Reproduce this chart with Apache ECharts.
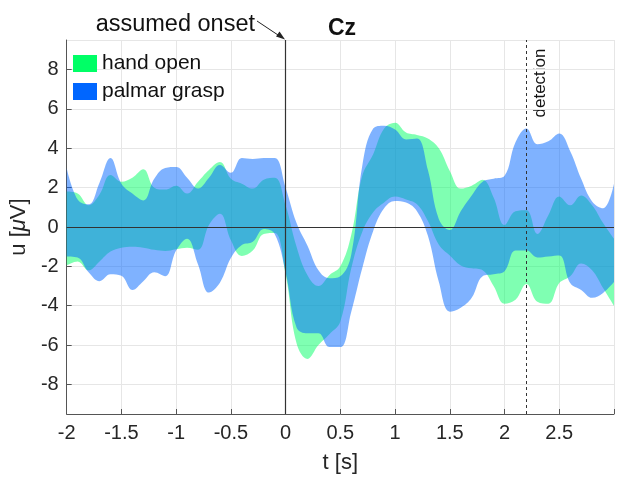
<!DOCTYPE html>
<html>
<head>
<meta charset="utf-8">
<script src="https://cdn.jsdelivr.net/npm/echarts@6/dist/echarts.min.js"></script>
<style>
  html, body { margin: 0; padding: 0; background: #fff; }
  #chart { width: 617px; height: 479px; }
</style>
</head>
<body>
<div id="chart"></div>
<script>
// time axis (s), sampled every 0.1 s
const tSec = [-2.0, -1.9, -1.8, -1.7, -1.6, -1.5, -1.4, -1.3, -1.2, -1.1,
  -1.0, -0.9, -0.8, -0.7, -0.6, -0.5, -0.4, -0.3, -0.2, -0.1,
  0.0, 0.1, 0.2, 0.3, 0.4, 0.5, 0.6, 0.7, 0.8, 0.9,
  1.0, 1.1, 1.2, 1.3, 1.4, 1.5, 1.6, 1.7, 1.8, 1.9,
  2.0, 2.1, 2.2, 2.3, 2.4, 2.5, 2.6, 2.7, 2.8, 2.9, 3.0];

// hand open band (uV)
const openHi = [1.8, 1.7, 1.1, 1.65, 2.64, 2.3, 2.5, 2.93, 2.0, 1.9,
  2.1, 1.7, 2.3, 2.9, 3.3, 2.45, 2.2, 1.95, 2.4, 2.5,
  1.1, -1.0, -2.45, -3.0, -2.45, -2.0, -0.4, 2.6, 3.7, 5.0,
  5.3, 4.8, 4.68, 4.5, 4.0, 2.85, 1.95, 2.1, 2.4, 1.5,
  0.1, 0.8, 0.85, -0.35, 0.6, 1.55, 1.1, 1.6, 1.1, 0.2, -0.6];
const openLo = [-1.95, -1.75, -2.2, -1.75, -1.25, -1.05, -1.0, -1.05, -1.16, -1.22,
  -1.13, -1.05, -1.15, 0.1, 0.67, -0.67, -1.47, -1.2, -0.35, -0.3,
  -2.4, -5.9, -6.7, -6.0, -5.45, -4.8, -2.1, -0.25, 0.75, 1.25,
  1.55, 1.4, 1.15, 0.3, -0.9, -1.45, -1.95, -2.1, -2.2, -3.0,
  -3.9, -3.7, -2.9, -3.8, -3.9, -2.85, -2.5, -1.85, -2.2, -3.1, -4.0];

// palmar grasp band (uV)
const graspHi = [3.0, 1.4, 1.15, 2.25, 3.5, 2.2, 1.7, 1.35, 2.45, 3.0,
  3.05, 2.5, 1.95, 2.5, 3.15, 2.75, 3.5, 3.45, 3.5, 3.5,
  2.0, 0.2, -0.95, -2.2, -2.6, -2.5, -1.4, 3.1, 5.0, 5.15,
  4.95, 4.45, 4.5, 2.9, 0.4, -0.15, 0.8, 1.6, 2.3, 2.45,
  2.6, 4.3, 5.0, 4.2, 4.35, 4.75, 3.85, 2.45, 1.3, 0.95, 2.2];
const graspLo = [-1.5, -1.55, -2.3, -2.75, -2.4, -2.48, -3.2, -2.75, -2.3, -2.5,
  -1.2, -0.6, -1.9, -3.33, -2.83, -1.58, -0.92, -0.75, -0.1, -0.35,
  -2.3, -5.1, -5.4, -5.4, -6.1, -6.1, -4.3, -2.1, -0.2, 0.95,
  1.32, 1.24, 0.8, -0.45, -2.8, -4.3, -4.1, -3.6, -2.5, -2.4,
  -2.25, -1.2, -1.2, -1.55, -1.5, -1.45, -2.85, -3.2, -3.6, -3.35, -2.8];

const onsetT = 0;
const detectT = 2.2;

const FONT = "'Liberation Sans', Arial, Helvetica, sans-serif";
const INK = '#262626';

const cats = tSec.map(t => String(t));

// a filled band = invisible lower line + stacked (hi - lo) area
function band(name, lo, hi, stackId, fill, solid) {
  return [
    {
      name: name + ' lo',
      type: 'line',
      stack: stackId,
      stackStrategy: 'all',
      data: lo,
      smooth: 0.4,
      symbol: 'none',
      silent: true,
      lineStyle: { opacity: 0 },
      z: 2
    },
    {
      name: name,
      type: 'line',
      stack: stackId,
      stackStrategy: 'all',
      data: hi.map((h, i) => +(h - lo[i]).toFixed(3)),
      smooth: 0.4,
      symbol: 'none',
      silent: true,
      lineStyle: { opacity: 0 },
      itemStyle: { color: solid },
      areaStyle: { color: fill, opacity: 1 },
      z: 2
    }
  ];
}

const chart = echarts.init(document.getElementById('chart'));

const option = {
  animation: false,
  backgroundColor: '#fff',
  textStyle: { fontFamily: FONT },
  title: {
    text: 'Cz',
    left: 337,
    top: 12,
    textAlign: 'center',
    textStyle: { fontFamily: FONT, fontSize: 23, fontWeight: 'bold', color: '#111' }
  },
  legend: {
    orient: 'vertical',
    left: 73,
    top: 53,
    padding: 0,
    itemWidth: 24,
    itemHeight: 17,
    itemGap: 7,
    icon: 'rect',
    textStyle: { fontFamily: FONT, fontSize: 21, color: '#111' },
    data: [
      { name: 'hand open', itemStyle: { color: '#00ff66' } },
      { name: 'palmar grasp', itemStyle: { color: '#0066ff' } }
    ]
  },
  grid: { left: 63, right: 0, top: 40, bottom: 57 },
  xAxis: {
    type: 'category',
    data: cats,
    boundaryGap: false,
    name: 't [s]',
    nameLocation: 'middle',
    nameGap: 38,
    nameTextStyle: { fontFamily: FONT, fontSize: 22, color: INK },
    axisLine: { show: true, onZero: false, lineStyle: { color: '#555', width: 1 } },
    axisTick: { show: true, inside: true, length: 5, interval: 4, lineStyle: { color: '#555' } },
    axisLabel: {
      interval: 4, fontFamily: FONT, fontSize: 20, color: INK, margin: 9,
      formatter: v => (v === '3' ? '' : v)
    },
    splitLine: { show: true, interval: 4, lineStyle: { color: '#e6e6e6', width: 1 } }
  },
  yAxis: {
    type: 'value',
    min: -9.5,
    max: 9.5,
    splitNumber: 10,
    name: 'u [{i|μ}V]',
    nameLocation: 'middle',
    nameGap: 25,
    nameTextStyle: {
      fontFamily: FONT, fontSize: 22, color: INK,
      rich: { i: { fontFamily: FONT, fontSize: 22, fontStyle: 'italic', color: INK } }
    },
    axisLine: { show: true, onZero: false, lineStyle: { color: '#555', width: 1 } },
    axisTick: { show: true, inside: true, length: 5, lineStyle: { color: '#555' } },
    axisLabel: { showMinLabel: false, showMaxLabel: false, fontFamily: FONT, fontSize: 20, color: INK, margin: 8 },
    splitLine: { show: true, lineStyle: { color: '#e6e6e6', width: 1 } }
  },
  series: [
    ...band('hand open', openLo, openHi, 'open', 'rgba(0,255,102,0.5)', '#00ff66'),
    ...band('palmar grasp', graspLo, graspHi, 'grasp', 'rgba(0,102,255,0.5)', '#0066ff'),
    {
      name: 'refs',
      type: 'line',
      data: [],
      silent: true,
      markLine: {
        silent: true,
        symbol: ['none', 'none'],
        label: { show: false },
        z: 6,
        data: [
          { yAxis: 0, lineStyle: { color: '#333', width: 1.2, type: 'solid' } },
          { xAxis: String(onsetT), lineStyle: { color: '#333', width: 1.2, type: 'solid' } },
          { xAxis: String(detectT), lineStyle: { color: '#333', width: 1, type: [3, 3] } }
        ]
      }
    }
  ],
  graphic: [
    {
      type: 'text',
      x: 255, y: 25,
      style: {
        text: 'assumed onset', fontFamily: FONT, fontSize: 23.5, fill: '#111',
        textAlign: 'right', textVerticalAlign: 'middle'
      }
    },
    {
      type: 'line',
      shape: { x1: 257, y1: 21, x2: 281, y2: 37 },
      style: { stroke: '#222', lineWidth: 1 }
    },
    {
      type: 'polygon',
      shape: { points: [[285, 39.5], [276, 36.5], [279.5, 31.5]] },
      style: { fill: '#222' }
    },
    {
      type: 'text',
      x: 540, y: 83,
      rotation: Math.PI / 2,
      style: {
        text: 'detection', fontFamily: FONT, fontSize: 17, fill: '#111',
        textAlign: 'center', textVerticalAlign: 'middle'
      }
    }
  ]
};

chart.setOption(option);
</script>
</body>
</html>
